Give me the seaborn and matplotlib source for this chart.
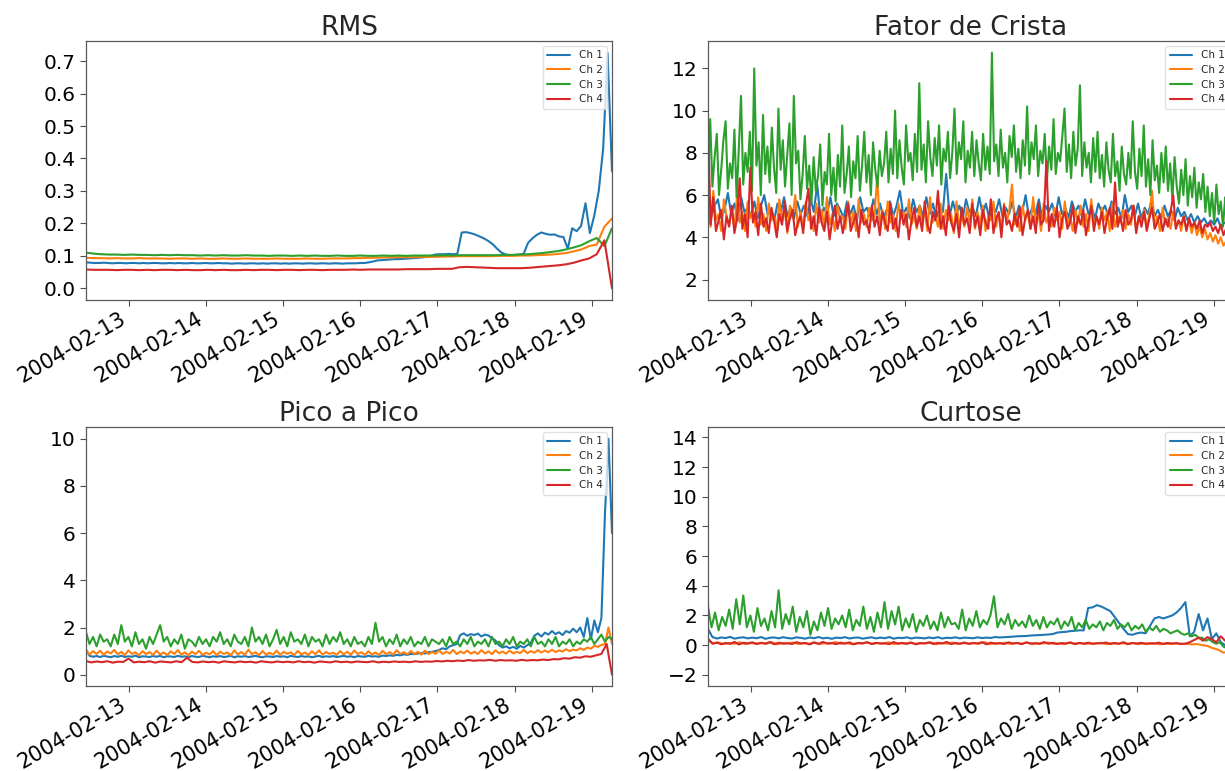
import pandas as pd
import matplotlib
matplotlib.use("Agg")
import matplotlib.pyplot as plt
import matplotlib.dates as mdates
from matplotlib.ticker import MultipleLocator, FormatStrFormatter
import seaborn as sns

# ---------------- data ----------------
START = "2004-02-12 10:32"
END = "2004-02-19 06:22"
channels = ["Ch 1", "Ch 2", "Ch 3", "Ch 4"]
titles = ["RMS", "Fator de Crista", "Pico a Pico", "Curtose"]

rms_ch1 = [0.080, 0.079, 0.078, 0.078, 0.079, 0.078, 0.077, 0.078, 0.078, 0.077,
           0.078, 0.078, 0.077, 0.078, 0.077, 0.078, 0.078, 0.077, 0.077, 0.078,
           0.077, 0.078, 0.077, 0.077, 0.078, 0.077, 0.077, 0.078, 0.077, 0.077,
           0.078, 0.077, 0.077, 0.076, 0.077, 0.077, 0.076, 0.077, 0.077, 0.076,
           0.077, 0.076, 0.077, 0.077, 0.076, 0.077, 0.076, 0.077, 0.077, 0.076,
           0.077, 0.077, 0.076, 0.077, 0.077, 0.076, 0.077, 0.077, 0.076, 0.077,
           0.077, 0.077, 0.078, 0.078, 0.080, 0.083, 0.086, 0.087, 0.088, 0.089,
           0.090, 0.090, 0.091, 0.092, 0.093, 0.094, 0.095, 0.097, 0.100, 0.104,
           0.105, 0.105, 0.106, 0.105, 0.106, 0.172, 0.173, 0.170, 0.166, 0.160,
           0.154, 0.146, 0.136, 0.122, 0.110, 0.104, 0.102, 0.103, 0.104, 0.106,
           0.140, 0.154, 0.165, 0.172, 0.168, 0.165, 0.166, 0.160, 0.158, 0.122,
           0.185, 0.176, 0.192, 0.262, 0.170, 0.225, 0.300, 0.430, 0.725, 0.360]
rms_ch2 = [0.094, 0.093, 0.093, 0.092, 0.093, 0.092, 0.092, 0.093, 0.092, 0.092,
           0.092, 0.091, 0.092, 0.092, 0.091, 0.092, 0.091, 0.091, 0.092, 0.091,
           0.091, 0.092, 0.091, 0.091, 0.091, 0.092, 0.091, 0.091, 0.091, 0.092,
           0.091, 0.091, 0.092, 0.092, 0.092, 0.093, 0.093, 0.094, 0.094, 0.095,
           0.095, 0.096, 0.096, 0.096, 0.097, 0.097, 0.097, 0.098, 0.098, 0.099,
           0.099, 0.099, 0.099, 0.099, 0.100, 0.100, 0.100, 0.101, 0.101, 0.102,
           0.103, 0.104, 0.106, 0.109, 0.114, 0.120, 0.130, 0.135, 0.190, 0.215]
rms_ch3 = [0.110, 0.107, 0.105, 0.104, 0.104, 0.103, 0.104, 0.103, 0.103, 0.102,
           0.103, 0.102, 0.103, 0.102, 0.102, 0.101, 0.102, 0.101, 0.102, 0.101,
           0.101, 0.102, 0.101, 0.101, 0.100, 0.101, 0.101, 0.100, 0.101, 0.100,
           0.101, 0.100, 0.100, 0.101, 0.100, 0.100, 0.101, 0.100, 0.100, 0.101,
           0.100, 0.101, 0.100, 0.101, 0.101, 0.101, 0.101, 0.102, 0.101, 0.102,
           0.102, 0.102, 0.102, 0.102, 0.102, 0.103, 0.103, 0.104, 0.105, 0.107,
           0.109, 0.112, 0.115, 0.120, 0.126, 0.133, 0.145, 0.155, 0.130, 0.185]
rms_ch4 = [0.058, 0.057, 0.057, 0.057, 0.056, 0.057, 0.057, 0.056, 0.057, 0.056,
           0.057, 0.057, 0.056, 0.057, 0.056, 0.056, 0.057, 0.056, 0.057, 0.056,
           0.056, 0.057, 0.056, 0.057, 0.057, 0.056, 0.057, 0.057, 0.056, 0.057,
           0.057, 0.056, 0.057, 0.057, 0.057, 0.058, 0.057, 0.058, 0.058, 0.058,
           0.058, 0.058, 0.059, 0.059, 0.059, 0.059, 0.060, 0.060, 0.060, 0.065,
           0.066, 0.065, 0.064, 0.063, 0.062, 0.062, 0.062, 0.062, 0.063, 0.065,
           0.067, 0.069, 0.071, 0.074, 0.079, 0.086, 0.092, 0.105, 0.148, 0.000]

fc_ch1 = [6.0, 5.0, 5.5, 5.8, 4.9, 5.3, 6.1, 5.1, 5.6, 4.8, 5.9, 5.2, 5.4, 5.0, 5.7, 4.9, 5.5, 6.0, 5.1, 5.3,
          4.8, 5.6, 5.2, 5.9, 5.0, 5.4, 4.9, 5.7, 5.1, 5.5, 5.0, 5.8, 5.2, 6.5, 4.9, 5.4, 5.1, 5.9, 5.0, 5.6,
          5.3, 4.9, 5.7, 5.1, 5.5, 4.8, 5.9, 5.2, 5.4, 5.0, 5.8, 5.1, 5.6, 4.9, 5.3, 5.7, 5.0, 5.5, 6.2, 5.1,
          5.4, 4.9, 5.8, 5.2, 5.5, 5.0, 5.9, 5.1, 5.6, 4.9, 5.4, 5.2, 7.0, 5.0, 5.7, 5.1, 5.5, 4.9, 5.8, 5.2,
          5.4, 5.0, 5.9, 5.1, 5.6, 4.9, 5.5, 5.2, 5.8, 5.0, 5.4, 5.1, 5.7, 4.9, 5.5, 5.2, 6.0, 5.0, 5.4, 5.1,
          5.8, 4.9, 5.5, 5.2, 5.6, 5.0, 5.9, 5.1, 5.4, 4.9, 5.7, 5.2, 5.5, 5.0, 5.8, 5.1, 5.4, 4.9, 5.6, 5.2,
          5.5, 5.0, 5.7, 5.1, 5.4, 4.9, 6.0, 5.2, 5.5, 5.0, 5.6, 4.9, 5.4, 5.1, 5.7, 5.0, 5.3, 4.9, 5.5, 5.0,
          5.3, 4.8, 5.4, 5.0, 5.2, 4.8, 5.1, 4.7, 5.0, 4.7, 4.9, 4.6, 4.8, 4.6, 4.9, 4.5, 4.7, 4.6, 4.8, 4.5]
fc_ch2 = [5.5, 4.5, 6.2, 4.8, 5.1, 4.3, 5.8, 5.0, 4.6, 5.4, 4.4, 6.0, 4.7, 5.2, 4.3, 5.7, 4.9, 5.3, 4.5, 5.9,
          4.6, 5.1, 4.3, 5.6, 4.8, 5.0, 4.4, 5.8, 4.7, 5.3, 4.2, 5.5, 4.9, 6.0, 4.5, 5.2, 4.4, 5.7, 4.8, 5.0,
          4.3, 5.6, 4.7, 5.3, 4.5, 5.9, 4.6, 5.1, 4.3, 5.5, 4.8, 5.0, 4.4, 5.7, 4.6, 5.2, 4.3, 5.8, 4.7, 5.1,
          4.5, 5.4, 4.8, 5.0, 6.9, 4.6, 5.3, 4.4, 5.7, 4.7, 5.1, 4.3, 5.6, 4.9, 5.2, 4.5, 5.8, 4.6, 5.0, 4.4,
          5.5, 4.8, 5.2, 4.3, 5.9, 4.7, 5.0, 4.5, 5.6, 4.4, 5.3, 4.8, 5.1, 4.2, 5.7, 4.6, 5.0, 4.5, 5.4, 4.7,
          5.8, 4.4, 5.2, 4.6, 5.5, 4.3, 5.0, 4.8, 5.7, 4.5, 5.1, 4.4, 5.6, 4.7, 5.3, 6.5, 4.6, 5.0, 4.3, 5.5,
          4.8, 5.2, 4.4, 5.9, 4.6, 5.1, 4.3, 5.6, 4.7, 5.0, 4.5, 5.4, 4.8, 5.2, 4.4, 5.7, 4.6, 5.0, 4.3, 5.3,
          4.7, 5.5, 4.5, 5.1, 4.3, 5.8, 4.6, 5.0, 4.4, 5.4, 4.8, 5.2, 4.3, 5.6, 4.5, 5.0, 4.7, 5.3, 4.4, 5.1,
          4.6, 5.5, 4.3, 5.0, 4.7, 5.3, 4.4, 5.1, 6.2, 4.5, 5.0, 4.3, 5.4, 4.6, 4.9, 4.4, 5.2, 4.5, 4.8, 4.3,
          5.0, 4.4, 4.8, 4.2, 4.7, 4.1, 4.5, 4.0, 4.4, 3.9, 4.2, 3.8, 4.1, 3.7, 4.0, 3.6, 3.8, 3.5, 3.7, 3.5]
fc_ch3 = [7.0, 9.6, 6.4, 7.8, 8.9, 6.0, 7.2, 8.6, 9.5, 6.3, 7.5, 6.8, 9.1, 5.9, 8.2, 10.7,
          6.5, 8.0, 7.1, 9.0, 6.2, 12.0, 7.4, 8.5, 6.0, 9.8, 7.0, 8.3, 6.6, 9.2, 7.3, 6.1,
          10.1, 7.2, 8.6, 6.4, 7.9, 9.4, 6.0, 10.7, 7.5, 8.1, 5.8, 7.0, 8.8, 6.3, 7.4, 5.6,
          7.8, 6.2, 6.9, 8.4, 5.5, 7.1, 6.5, 8.9, 6.0, 7.3, 5.7, 7.9, 6.4, 9.3, 6.1, 7.0,
          8.3, 5.9, 7.6, 6.8, 8.8, 6.2, 7.4, 9.0, 6.6, 7.9, 6.0, 8.5, 7.2, 6.4, 8.1, 6.9,
          7.5, 9.0, 6.6, 8.2, 7.0, 10.0, 6.8, 8.6, 7.3, 6.5, 9.3, 7.6, 8.0, 6.7, 8.9, 7.1,
          11.3, 7.2, 8.4, 6.6, 9.5, 7.8, 6.9, 8.7, 7.4, 9.3, 6.5, 8.2, 7.6, 9.0, 6.8, 8.0,
          10.1, 7.0, 8.5, 7.7, 9.5, 6.6, 8.1, 7.3, 9.0, 6.9, 8.6, 7.5, 6.7, 8.9, 7.2, 8.3,
          7.0, 12.75, 7.6, 8.4, 6.9, 9.1, 7.3, 8.0, 6.6, 8.8, 7.8, 9.3, 7.1, 8.2, 6.8, 8.6,
          7.4, 10.2, 7.0, 8.5, 7.7, 9.3, 6.9, 8.1, 7.5, 8.9, 6.7, 8.3, 7.2, 9.6, 7.0, 8.0,
          7.6, 8.8, 10.1, 7.1, 8.4, 6.8, 9.0, 7.4, 8.2, 11.2, 6.9, 8.5, 7.3, 8.0, 6.6, 8.7,
          7.1, 9.0, 6.8, 7.9, 6.4, 8.5, 7.2, 6.6, 8.9, 6.9, 7.6, 6.2, 8.3, 7.0, 6.5, 8.0,
          6.8, 9.5, 7.1, 6.3, 8.2, 6.9, 9.3, 6.4, 7.7, 6.0, 8.6, 6.7, 7.4, 6.1, 8.0, 6.6,
          8.3, 6.2, 7.5, 5.8, 7.8, 6.4, 5.6, 7.2, 6.0, 7.7, 5.5, 6.9, 5.9, 7.3, 5.4, 6.6,
          5.8, 7.0, 5.2, 6.4, 5.0, 6.1, 4.7, 6.5, 5.1, 5.7, 4.5, 5.9, 4.6, 5.3, 4.4, 4.9]
fc_ch4 = [9.3, 4.6, 5.9, 4.3, 4.8, 5.3, 3.9, 5.0, 4.5, 5.5, 4.2, 4.9, 6.8, 4.4, 5.1, 4.0, 7.3, 4.7, 5.2, 4.1,
          5.6, 4.5, 4.9, 4.2, 5.4, 4.8, 4.0, 5.1, 4.6, 5.7, 4.3, 4.9, 5.3, 4.1, 4.7, 5.0, 4.2, 5.5, 6.3, 4.4,
          5.0, 4.1, 5.4, 4.7, 4.3, 5.2, 3.9, 4.8, 5.5, 4.4, 5.0, 4.2, 4.9, 5.6, 4.3, 4.7, 5.1, 4.0, 5.3, 4.6,
          4.8, 4.2, 5.5, 4.5, 5.0, 4.1, 5.2, 4.7, 4.3, 5.6, 4.4, 4.9, 4.0, 5.3, 4.6, 5.1, 3.9, 4.8, 5.4, 4.5,
          5.0, 4.3, 5.7, 4.6, 4.2, 5.2, 4.8, 6.2, 4.4, 5.0, 4.1, 5.5, 4.7, 4.3, 5.1, 4.0, 5.4, 4.6, 4.9, 4.2,
          5.6, 4.5, 5.0, 4.1, 5.3, 4.7, 4.4, 5.8, 4.2, 4.9, 5.2, 4.0, 5.5, 4.6, 4.8, 4.3, 5.1, 4.5, 5.4, 4.1,
          4.9, 5.3, 4.4, 5.0, 4.2, 5.6, 4.6, 4.8, 7.6, 4.3, 5.1, 4.5, 5.4, 4.0, 4.9, 5.2, 4.4, 4.7, 5.5, 4.2,
          5.0, 4.6, 5.3, 4.1, 4.8, 5.5, 4.3, 5.0, 4.6, 5.2, 4.2, 4.9, 5.4, 4.4, 6.6, 4.5, 5.0, 4.3, 5.3, 4.6,
          4.8, 5.5, 4.2, 5.0, 4.5, 5.2, 4.3, 4.9, 5.4, 4.4, 4.7, 5.1, 4.3, 4.9, 4.5, 5.2, 6.0, 4.4, 4.8, 4.6,
          5.0, 4.3, 4.9, 4.5, 4.7, 4.4, 4.8, 4.2, 4.6, 4.5, 4.7, 4.3, 4.5, 4.2, 4.6, 4.1, 4.4, 4.3, 4.2, 4.3]

pp_ch1 = [1.05, 0.80, 0.76, 0.79, 0.75, 0.80, 0.77, 0.74, 0.79, 0.76,
          0.80, 0.75, 0.78, 0.76, 0.81, 0.74, 0.78, 0.77, 0.75, 0.79,
          0.76, 0.80, 0.74, 0.78, 0.77, 0.75, 0.80, 0.76, 0.78, 0.74,
          0.79, 0.76, 0.75, 0.80, 0.77, 0.74, 0.78, 0.76, 0.79, 0.75,
          0.77, 0.80, 0.74, 0.78, 0.76, 0.79, 0.75, 0.77, 0.80, 0.76,
          0.74, 0.78, 0.77, 0.75, 0.79, 0.76, 0.78, 0.74, 0.80, 0.77,
          0.75, 0.79, 0.76, 0.78, 0.74, 0.77, 0.80, 0.75, 0.78, 0.76,
          0.79, 0.75, 0.77, 0.80, 0.76, 0.78, 0.74, 0.79, 0.77, 0.76,
          0.80, 0.77, 0.78, 0.76, 0.81, 0.79, 0.82, 0.80, 0.84, 0.82,
          0.86, 0.84, 0.88, 0.87, 0.90, 0.92, 0.90, 0.95, 0.97, 1.00,
          1.05, 1.12, 1.08, 1.20, 1.25, 1.30, 1.68, 1.75, 1.65, 1.72,
          1.68, 1.74, 1.62, 1.70, 1.66, 1.55, 1.45, 1.25, 1.15, 1.20,
          1.12, 1.18, 1.10, 1.22, 1.15, 1.25, 1.35, 1.65, 1.75, 1.62,
          1.78, 1.70, 1.85, 1.72, 1.80, 1.68, 1.85, 1.78, 1.95, 1.80,
          2.00, 1.60, 2.40, 1.50, 2.30, 1.80, 2.40, 6.80, 10.0, 6.00]
pp_ch2 = [1.05, 0.85, 1.00, 0.88, 1.02, 0.84, 0.98, 0.90, 1.05, 0.86,
          0.97, 0.83, 1.03, 0.88, 0.95, 0.82, 1.00, 0.87, 0.96, 0.84,
          1.02, 0.86, 0.94, 0.83, 0.99, 0.88, 1.04, 0.85, 0.95, 0.82,
          0.98, 0.87, 1.01, 0.84, 0.93, 0.86, 1.00, 0.83, 0.97, 0.88,
          0.94, 0.82, 1.03, 0.86, 0.96, 0.84, 1.06, 0.87, 0.95, 0.83,
          1.00, 0.86, 0.93, 0.85, 1.02, 0.84, 0.97, 0.88, 0.95, 0.83,
          1.01, 0.86, 0.94, 0.84, 0.99, 0.87, 1.03, 0.85, 0.96, 0.88,
          0.93, 0.84, 1.00, 0.86, 0.97, 0.85, 1.02, 0.88, 0.95, 0.84,
          0.99, 0.86, 0.94, 0.83, 1.01, 0.87, 0.96, 0.85, 1.04, 0.88,
          0.95, 0.86, 1.00, 0.88, 0.97, 0.85, 1.02, 0.87, 0.96, 0.89,
          1.03, 0.88, 0.97, 0.90, 1.05, 0.87, 0.98, 0.91, 1.02, 0.89,
          0.97, 0.88, 1.04, 0.90, 0.99, 0.87, 1.03, 0.91, 0.98, 0.89,
          1.02, 0.90, 0.97, 0.92, 1.05, 0.91, 1.00, 0.93, 1.04, 0.94,
          1.02, 0.95, 1.06, 0.96, 1.03, 0.98, 1.08, 1.00, 1.06, 1.03,
          1.12, 1.05, 1.15, 1.10, 1.22, 1.18, 1.26, 1.30, 2.00, 1.30]
pp_ch3 = [1.8, 1.3, 1.6, 1.2, 1.7, 1.4, 1.5, 1.2, 1.7, 1.3,
          2.1, 1.4, 1.6, 1.2, 1.8, 1.3, 1.5, 1.1, 1.6, 1.3,
          1.7, 2.1, 1.4, 1.6, 1.2, 1.5, 1.3, 1.7, 1.1, 1.5,
          1.4, 1.2, 1.6, 1.3, 1.5, 1.2, 1.6, 1.4, 1.8, 1.3,
          1.5, 1.2, 1.7, 1.4, 1.3, 1.6, 1.2, 2.0, 1.4, 1.6,
          1.3, 1.7, 1.2, 1.5, 1.9, 1.3, 1.6, 1.2, 1.8, 1.4,
          1.5, 1.3, 1.7, 1.2, 1.6, 1.4, 1.5, 1.2, 1.7, 1.3,
          1.6, 1.4, 1.8, 1.3, 1.5, 1.2, 1.6, 1.3, 1.4, 1.2,
          1.6, 1.3, 2.2, 1.4, 1.6, 1.2, 1.5, 1.3, 1.7, 1.2,
          1.5, 1.3, 1.6, 1.2, 1.4, 1.3, 1.6, 1.2, 1.5, 1.4,
          1.3, 1.5, 1.2, 1.6, 1.3, 1.4, 1.2, 1.5, 1.3, 1.6,
          1.2, 1.4, 1.3, 1.5, 1.2, 1.6, 1.3, 1.4, 1.2, 1.5,
          1.3, 1.6, 1.2, 1.4, 1.3, 1.5, 1.2, 1.6, 1.3, 1.4,
          1.2, 1.5, 1.3, 1.6, 1.2, 1.4, 1.3, 1.5, 1.2, 1.4,
          1.3, 1.5, 1.4, 1.6, 1.3, 1.5, 1.7, 1.4, 1.6, 1.5]
pp_ch4 = [0.58, 0.52, 0.56, 0.53, 0.57, 0.51, 0.55, 0.54, 0.68, 0.52,
          0.55, 0.53, 0.57, 0.51, 0.56, 0.54, 0.52, 0.57, 0.53, 0.72,
          0.54, 0.52, 0.56, 0.53, 0.55, 0.51, 0.57, 0.54, 0.52, 0.56,
          0.53, 0.55, 0.51, 0.57, 0.54, 0.52, 0.56, 0.53, 0.55, 0.52,
          0.57, 0.53, 0.55, 0.51, 0.56, 0.54, 0.52, 0.57, 0.53, 0.55,
          0.52, 0.56, 0.54, 0.53, 0.57, 0.52, 0.55, 0.53, 0.56, 0.54,
          0.55, 0.53, 0.57, 0.54, 0.56, 0.55, 0.58, 0.56, 0.59, 0.57,
          0.60, 0.58, 0.62, 0.59, 0.61, 0.60, 0.63, 0.59, 0.62, 0.60,
          0.61, 0.59, 0.63, 0.60, 0.62, 0.61, 0.64, 0.62, 0.66, 0.65,
          0.70, 0.68, 0.74, 0.72, 0.78, 0.76, 0.82, 0.88, 1.30, 0.00]

ku_ch1 = [1.10, 0.55, 0.45, 0.52, 0.48, 0.56, 0.44, 0.50, 0.53, 0.46,
          0.51, 0.47, 0.55, 0.43, 0.50, 0.52, 0.46, 0.54, 0.48, 0.45,
          0.53, 0.49, 0.44, 0.52, 0.47, 0.55, 0.46, 0.50, 0.43, 0.51,
          0.48, 0.54, 0.45, 0.50, 0.52, 0.44, 0.49, 0.53, 0.46, 0.51,
          0.47, 0.55, 0.44, 0.50, 0.48, 0.53, 0.45, 0.51, 0.49, 0.46,
          0.52, 0.47, 0.54, 0.45, 0.50, 0.48, 0.53, 0.46, 0.51, 0.49,
          0.47, 0.53, 0.48, 0.51, 0.49, 0.55, 0.52, 0.54, 0.55, 0.58,
          0.60, 0.61, 0.62, 0.65, 0.67, 0.68, 0.70, 0.72, 0.75, 0.85,
          0.88, 0.90, 0.95, 0.97, 1.00, 1.00, 2.50, 2.55, 2.70, 2.60,
          2.45, 2.30, 1.90, 1.50, 1.10, 0.75, 0.70, 0.80, 0.85, 0.80,
          1.30, 1.80, 1.90, 1.80, 1.90, 2.00, 2.20, 2.50, 2.90, 0.60,
          0.90, 2.10, 1.00, 1.80, 0.40, 0.80, 0.20, 0.00, -0.30, 0.50]
ku_ch2 = [0.30, 0.12, 0.18, 0.08, 0.15, 0.10, 0.20, 0.07, 0.14, 0.11,
          0.17, 0.09, 0.21, 0.06, 0.15, 0.12, 0.18, 0.08, 0.13, 0.10,
          0.19, 0.07, 0.14, 0.11, 0.22, 0.09, 0.16, 0.06, 0.13, 0.12,
          0.18, 0.08, 0.15, 0.10, 0.20, 0.07, 0.14, 0.11, 0.17, 0.09,
          0.13, 0.12, 0.19, 0.06, 0.15, 0.10, 0.18, 0.08, 0.14, 0.11,
          0.16, 0.09, 0.21, 0.07, 0.13, 0.12, 0.17, 0.08, 0.15, 0.10,
          0.19, 0.06, 0.14, 0.11, 0.18, 0.09, 0.13, 0.07, 0.16, 0.10,
          0.15, 0.08, 0.12, 0.11, 0.17, 0.06, 0.14, 0.09, 0.13, 0.10,
          0.15, 0.07, 0.12, 0.09, 0.14, 0.06, 0.11, 0.08, 0.12, 0.07,
          0.10, 0.05, 0.08, 0.00, -0.05, -0.20, -0.30, -0.50, -0.45, -0.40]
ku_ch3 = [2.6, 1.2, 2.2, 1.0, 1.9, 1.3, 2.4, 1.1, 3.1, 1.4,
          3.35, 1.2, 2.0, 0.9, 2.5, 1.3, 1.8, 1.0, 2.3, 1.2,
          3.7, 1.1, 2.1, 1.4, 2.6, 0.9, 1.9, 1.2, 2.3, 0.7,
          1.6, 1.0, 2.2, 1.3, 2.5, 1.1, 1.8, 1.4, 2.0, 1.2,
          2.4, 1.0, 1.7, 1.3, 2.6, 1.1, 1.9, 0.9, 2.2, 1.2,
          2.9, 1.1, 2.3, 1.4, 2.6, 1.0, 1.8, 1.2, 2.1, 0.9,
          1.7, 1.3, 2.0, 1.1, 1.6, 1.0, 2.2, 1.2, 1.9, 1.4,
          1.5, 1.1, 2.4, 1.0, 1.8, 1.3, 2.3, 1.2, 1.7, 1.4,
          2.0, 3.3, 1.2, 1.8, 1.4, 2.1, 1.1, 1.7, 1.3, 1.6,
          1.2, 2.0, 1.3, 1.7, 1.1, 1.9, 1.2, 1.6, 1.4, 1.8,
          1.1, 1.6, 1.3, 1.9, 1.0, 1.5, 1.2, 1.7, 1.1, 1.4,
          1.2, 1.6, 1.0, 1.5, 1.3, 1.7, 1.1, 1.4, 1.2, 1.5,
          1.0, 1.3, 1.1, 1.4, 0.9, 1.2, 1.0, 1.3, 0.9, 1.1,
          1.0, 0.8, 0.9, 1.0, 0.8, 0.7, 0.8, 0.6, 0.7, 0.5,
          0.5, 0.3, 0.4, 0.2, 0.1, 0.2, -0.1, -0.2, -0.4, -0.5]
ku_ch4 = [0.45, 0.10, 0.18, 0.06, 0.15, 0.09, 0.22, 0.05, 0.16, 0.12,
          0.19, 0.08, 0.14, 0.11, 0.21, 0.06, 0.17, 0.10, 0.13, 0.08,
          0.20, 0.12, 0.15, 0.05, 0.18, 0.09, 0.22, 0.11, 0.14, 0.07,
          0.17, 0.10, 0.19, 0.06, 0.15, 0.12, 0.20, 0.08, 0.16, 0.11,
          0.13, 0.07, 0.21, 0.10, 0.15, 0.09, 0.18, 0.06, 0.14, 0.12,
          0.19, 0.08, 0.16, 0.11, 0.22, 0.07, 0.15, 0.10, 0.18, 0.09,
          0.13, 0.12, 0.20, 0.06, 0.17, 0.10, 0.14, 0.08, 0.19, 0.11,
          0.15, 0.07, 0.18, 0.12, 0.13, 0.09, 0.21, 0.10, 0.16, 0.08,
          0.14, 0.11, 0.19, 0.07, 0.15, 0.10, 0.17, 0.09, 0.13, 0.12,
          0.18, 0.08, 0.15, 0.10, 0.20, 0.07, 0.14, 0.11, 0.16, 0.09,
          0.13, 0.10, 0.17, 0.08, 0.15, 0.11, 0.14, 0.09, 0.10, 0.20,
          0.35, 0.50, 0.30, 0.55, 0.40, 0.20, 0.60, 0.30, 0.45, 0.20]

ylims = [(-0.036, 0.762), (1.03, 13.3), (-0.48, 10.5), (-2.75, 14.7)]
ysteps = [0.1, 2, 2, 2]
panels = [[rms_ch1, rms_ch2, rms_ch3, rms_ch4],
          [fc_ch1, fc_ch2, fc_ch3, fc_ch4],
          [pp_ch1, pp_ch2, pp_ch3, pp_ch4],
          [ku_ch1, ku_ch2, ku_ch3, ku_ch4]]

# ---------------- style / layout ----------------
sns.set_theme(style="ticks")
plt.rcParams["font.family"] = ["DejaVu Sans"]
colors = sns.color_palette("tab10", 4)

W, H = 1225, 771
fig = plt.figure(figsize=(W / 100, H / 100), dpi=100)
fig.patch.set_facecolor("white")

boxes = [(86, 41), (708, 41), (86, 427), (708, 427)]  # left, top in px
aw, ah = 526, 259

t0, t1 = pd.Timestamp(START), pd.Timestamp(END)

for k in range(4):
    lx, ty = boxes[k]
    ax = fig.add_axes([lx / W, 1 - (ty + ah) / H, aw / W, ah / H])
    for name, vals, col in zip(channels, panels[k], colors):
        tt = pd.date_range(START, END, periods=len(vals))
        sns.lineplot(x=tt, y=vals, ax=ax, color=col, label=name,
                     linewidth=1.5, estimator=None, sort=False)
    ax.set_xlim(t0, t1)
    ax.set_ylim(*ylims[k])
    ax.yaxis.set_major_locator(MultipleLocator(ysteps[k]))
    ax.xaxis.set_major_locator(mdates.DayLocator())
    ax.xaxis.set_major_formatter(mdates.DateFormatter("%Y-%m-%d"))
    ax.set_title(titles[k], fontsize=19, pad=4)
    ax.set_xlabel("")
    ax.set_ylabel("")
    ax.tick_params(axis="y", labelsize=14.5, length=4, width=0.8,
                   color="0.3", labelcolor="black")
    ax.tick_params(axis="x", labelsize=15, length=4, width=0.8,
                   color="0.3", labelcolor="black", pad=2.5)
    for lab in ax.get_xticklabels():
        lab.set_rotation(30)
        lab.set_ha("right")
    for sp in ax.spines.values():
        sp.set_visible(True)
        sp.set_color("0.35")
        sp.set_linewidth(0.9)
    if k == 0:
        ax.yaxis.set_major_formatter(FormatStrFormatter("%.1f"))
    leg = ax.legend(loc="upper right", fontsize=7.5, frameon=True,
                    handlelength=2.2, borderpad=0.4, labelspacing=0.45)
    leg.get_frame().set_edgecolor("0.85")

fig.savefig("out.png", dpi=100, facecolor="white")
